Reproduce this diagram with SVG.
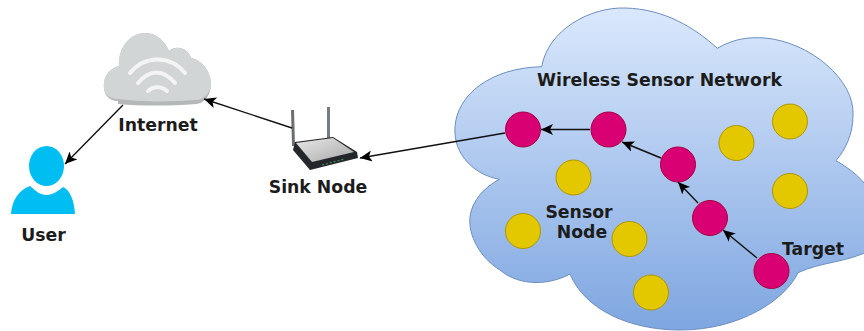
<svg xmlns="http://www.w3.org/2000/svg" width="864" height="331" viewBox="0 0 864 331">
<style>
text{font-family:"DejaVu Sans",Verdana,sans-serif;font-weight:bold;font-size:17.300px;fill:#1c1c1c}
.m{text-anchor:middle}
.r{fill:#d80073;stroke:#a50040;stroke-width:1}
.y{fill:#e3c800;stroke:#b09500;stroke-width:1}
.c{fill:none;stroke:#111;stroke-width:1.400;marker-end:url(#a)}
</style>
<defs>
<marker id="a" markerUnits="userSpaceOnUse" markerWidth="14" markerHeight="12" refX="12" refY="5.500" orient="auto"><path d="M0 0L12 5.500L0 11L3 5.500Z" fill="#000"/></marker>
<linearGradient id="g" x1="0" y1="0" x2="0" y2="1"><stop offset="0" stop-color="#dae8fc"/><stop offset="1" stop-color="#7ea6e0"/></linearGradient>
<linearGradient id="rt" x1="0" y1="0" x2="1" y2="1"><stop offset="0" stop-color="#e8e8e8"/><stop offset="1" stop-color="#a8a8a8"/></linearGradient>
</defs>
<g id="wsn-cloud"><path d="M541.700 66.700C548 30 590 7 625 8C665 9 695 28 717.300 48.300C735 38 750 37 765 38C810 42 855 80 853 115C853 135 845 150 836 160.700C852 170 864 180 870 192L870 250C850 262 820 262 798 272.700C785 300 740 330 680 330C630 330 585 310 570 274C550 285 520 287 500 270C480 258 468 235 470 217C472 200 485 187 499.300 179.300C475 175 453 155 455 127C457 95 490 68 541.700 66.700Z" fill="url(#g)" stroke="#6c8ebf" stroke-width="1"/></g>
<g id="internet">
<path d="M118 101C106 101 103 90 104 83C105 74 111 68 119 66C118 48 130 33 145 33C156 33 164 40 169 51C175 45 188 47 191 58C202 60 211 72 211 84C211 95 204 104 196 104C170 106 140 106 118 104Z" fill="#b4b8b8"/>
<path d="M118 99C106 99 103 90 104 83C105 74 111 68 119 66C118 48 130 33 145 33C156 33 164 40 169 51C175 45 188 47 191 58C202 60 211 72 211 84C211 92 204 100 196 100C170 102 140 102 118 99Z" fill="#d2d5d5"/>
<g fill="none" stroke="#f4f4f4" stroke-linecap="round" stroke-width="4"><path d="M130 73C145 55 170 55 185 73"/><path d="M138 83C150 69 163 69 175 83"/><path d="M148 91C154 86 161 86 167 91"/></g>
<text class="m" x="158" y="131">Internet</text>
</g>
<g id="user">
<ellipse cx="46.500" cy="166" rx="17.500" ry="20" fill="#00bef2"/>
<path d="M11 214C12 200 19 190 30 186C36 191 40 195 46.500 195C53 195 58 191 63 187C70 190 74 200 75 214Z" fill="#00bef2"/>
<text class="m" x="43.500" y="241">User</text>
</g>
<g id="sink-node">
<path d="M291 110L294 110L295 146L292 146Z" fill="#6a6f74"/>
<path d="M327 107L330 107L330 138L327 138Z" fill="#777c80"/>
<path d="M295 142L293 150L310 170L358 158L357 152L333 137Z" fill="#23262b"/>
<path d="M296 143L333 138L354 152L312 162Z" fill="url(#rt)"/>
<path d="M322 165L345 159" stroke="#3d9c55" stroke-width="1.200" stroke-dasharray="2 2"/>
<text class="m" x="318" y="193">Sink Node</text>
</g>
<g id="connectors">
<path class="c" d="M123 105L65 164"/>
<path class="c" d="M292 128L204 99"/>
<path class="c" d="M505 133L360 158"/>
<path class="c" d="M590 129.500L541 129.500"/>
<path class="c" d="M661 158L622 142"/>
<path class="c" d="M698 203L678 182"/>
<path class="c" d="M757 258L723 230"/>
</g>
<g id="network-nodes">
<circle class="r" cx="523" cy="129.500" r="17.500"/>
<circle class="r" cx="608.500" cy="129.500" r="17.500"/>
<circle class="r" cx="678" cy="164.500" r="17.500"/>
<circle class="r" cx="710" cy="218" r="17.500"/>
<circle class="r" cx="771.500" cy="271" r="17.500"/>
<circle class="y" cx="736.500" cy="143" r="17.500"/>
<circle class="y" cx="790" cy="121.500" r="17.500"/>
<circle class="y" cx="790" cy="191" r="17.500"/>
<circle class="y" cx="573.500" cy="177.500" r="17.500"/>
<circle class="y" cx="523" cy="231" r="17.500"/>
<circle class="y" cx="629.500" cy="239" r="17.500"/>
<circle class="y" cx="651" cy="292.500" r="17.500"/>
</g>
<g id="labels">
<text x="537" y="86">Wireless Sensor Network</text>
<text class="m" x="579" y="218">Sensor</text>
<text class="m" x="582" y="238">Node</text>
<text class="m" x="813" y="255">Target</text>
</g>
</svg>
